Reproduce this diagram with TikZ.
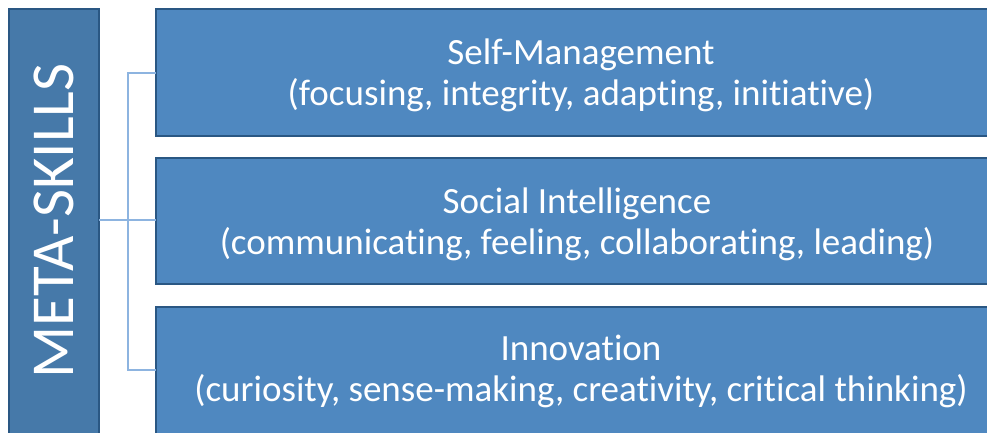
\documentclass[tikz,border=0pt]{standalone}
\usepackage{fontspec}
\setmainfont{Carlito}[Ligatures=NoCommon]
\definecolor{skillfill}{HTML}{4F88C0}
\definecolor{metafill}{HTML}{4679A9}
\definecolor{boxline}{HTML}{2A5783}
\definecolor{linkline}{HTML}{8DB4E0}
\begin{document}
\begin{tikzpicture}[x=1pt, y=-1pt]
        \tikzstyle{skill}=[draw=boxline, fill=skillfill, line width=2.5pt, text=white, align=center, font=\fontsize{37}{41}\selectfont]
        \tikzstyle{meta}=[draw=boxline, fill=metafill, line width=2.5pt]
        \tikzstyle{link}=[draw=linkline, line width=2.5pt]
        \useasboundingbox (0,0) rectangle (987,432);

        \draw[meta] (9,9) rectangle (99,445);
        \node[rotate=90, text=white, font=\fontsize{61}{61}\selectfont] (M) at (54,221) {META-SKILLS};

        \draw[skill] (156,9) rectangle (1006,136);
        \draw[skill] (156,158) rectangle (1006,284);
        \draw[skill] (156,307) rectangle (1006,445);
        \node[skill, draw=none, fill=none] (S_1) at (581,75) {Self-Management\\(focusing, integrity, adapting, initiative)};
        \node[skill, draw=none, fill=none] (S_2) at (577,224) {Social Intelligence\\(communicating, feeling, collaborating, leading)};
        \node[skill, draw=none, fill=none] (S_3) at (581,371) {Innovation\\(curiosity, sense-making, creativity, critical thinking)};

        \coordinate (L_0) at (99,220);
        \coordinate (L_1) at (156,73);
        \coordinate (L_2) at (156,220);
        \coordinate (L_3) at (156,370);
        \draw[link] (L_0) -- (L_2);
        \draw[link] (L_1) -| (128,220) |- (L_3);
\end{tikzpicture}
\end{document}
